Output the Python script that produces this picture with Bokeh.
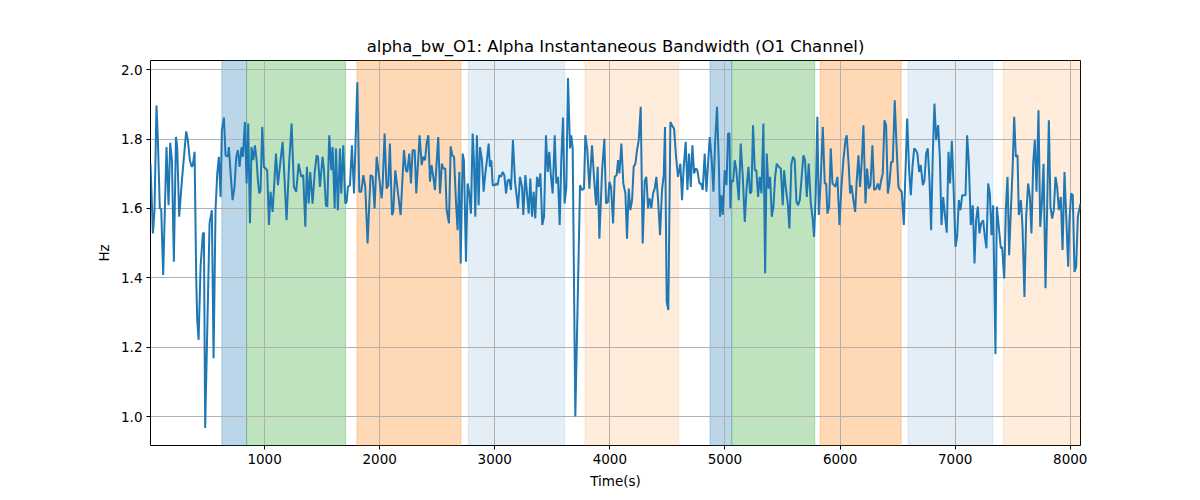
from bokeh.plotting import figure
from bokeh.models import BoxAnnotation, Range1d, FixedTicker, NumeralTickFormatter
from bokeh.embed import file_html
from bokeh.resources import INLINE

title_text = "alpha_bw_O1: Alpha Instantaneous Bandwidth (O1 Channel)"
x_label = "Time(s)"
y_label = "Hz"

times = [
    9, 30, 44, 61, 73, 90, 102, 119, 148, 166, 180, 195, 212, 230, 241, 258, 282, 319, 334, 351,
    366, 377, 392, 406, 415, 427, 444, 464, 473, 484, 522, 542, 557, 574, 589, 603, 618, 629, 647, 661,
    681, 690, 705, 722, 739, 754, 768, 783, 800, 812, 829, 844, 858, 873, 887, 902, 916, 931, 942, 954,
    965, 980, 994,
    1023, 1038, 1052, 1070, 1099, 1116, 1139, 1157, 1174, 1191, 1215, 1235, 1255, 1275, 1296, 1319, 1336, 1354, 1368, 1383,
    1397, 1417, 1435, 1452, 1464, 1481, 1504, 1516, 1533, 1545, 1562, 1580, 1591, 1609, 1620, 1637, 1655, 1666, 1684, 1701,
    1713, 1724, 1742, 1759, 1777, 1806, 1823, 1840, 1858, 1875, 1895, 1921, 1939, 1956, 1974,
    2002, 2017, 2026, 2043, 2060, 2075, 2089, 2107, 2118, 2136, 2153, 2182, 2211, 2228, 2240, 2257, 2272, 2286, 2304, 2318,
    2333, 2347, 2365, 2379, 2394, 2408, 2423, 2437, 2451, 2466, 2480, 2509, 2524, 2541, 2553, 2570, 2582, 2602, 2617, 2631,
    2646, 2663, 2677, 2692, 2704, 2721, 2732, 2750, 2764, 2779, 2793, 2808, 2819, 2831, 2845, 2860, 2872, 2889, 2903, 2918,
    2932, 2947, 2958, 2970, 2982, 2999, 3016,
    3025, 3040, 3054, 3069, 3083, 3098, 3112, 3127, 3141, 3158, 3176, 3202, 3219, 3237, 3248, 3266, 3280, 3295, 3309, 3324,
    3338, 3352, 3367, 3381, 3396, 3413, 3428, 3445, 3460, 3474, 3486, 3503, 3521, 3535, 3549, 3564, 3578, 3593, 3607, 3622,
    3636, 3654, 3665, 3677, 3700, 3741, 3758, 3775, 3787, 3804, 3822, 3845, 3862, 3880, 3894, 3909, 3932, 3952, 3967, 3984,
    3996, 4010,
    4028, 4042, 4059, 4071, 4083, 4100, 4117, 4135, 4149, 4164, 4178, 4193, 4207, 4222, 4236, 4251, 4268, 4285, 4303, 4317,
    4332, 4346, 4361, 4375, 4390, 4404, 4419, 4436, 4453, 4468, 4479, 4494, 4508, 4526, 4540, 4558, 4575, 4592, 4613, 4627,
    4642, 4659, 4674, 4688, 4703, 4717, 4732, 4746, 4760, 4778, 4792, 4807, 4824, 4839, 4853, 4868, 4885, 4900, 4914, 4931,
    4946, 4957, 4969, 4981, 4998, 5013, 5027, 5039, 5047,
    5056, 5071, 5085, 5099, 5120, 5137, 5155, 5172, 5189, 5204, 5218, 5230, 5244, 5259, 5273, 5288, 5302, 5317, 5334, 5349,
    5363, 5378, 5392, 5407, 5421, 5436, 5450, 5467, 5485, 5502, 5514, 5528, 5546, 5560, 5577, 5592, 5606, 5621, 5635, 5650,
    5664, 5682, 5696, 5711, 5728, 5746, 5763, 5774, 5789, 5803, 5815, 5832, 5850, 5867, 5879, 5890, 5905, 5919, 5934, 5948,
    5960, 5977, 5995, 6012, 6029, 6047,
    6058, 6076, 6087, 6099, 6116, 6131, 6145, 6160, 6174, 6189, 6203, 6221, 6235, 6250, 6264, 6281, 6296, 6313, 6328, 6342,
    6357, 6371, 6386, 6400, 6415, 6429, 6444, 6458, 6475, 6490, 6507, 6522, 6536, 6554, 6568, 6583, 6600, 6615, 6629, 6644,
    6658, 6672, 6687, 6701, 6719, 6733, 6748, 6762, 6777, 6791, 6806, 6820, 6835, 6852, 6867, 6881, 6896, 6910, 6927, 6942,
    6956, 6971, 6985, 7003, 7017, 7032, 7046, 7061,
    7075, 7090, 7104, 7119, 7136, 7153, 7168, 7182, 7197, 7211, 7226, 7243, 7258, 7272, 7287, 7301, 7316, 7330, 7350, 7362,
    7379, 7397, 7408, 7426, 7440, 7455, 7469, 7484, 7498, 7513, 7527, 7542, 7553, 7571, 7585, 7602, 7617, 7634, 7649, 7663,
    7678, 7692, 7707, 7724, 7739, 7753, 7768, 7785, 7799, 7814, 7828, 7843, 7857, 7872, 7886, 7901, 7918, 7933, 7950, 7965,
    7982, 7993, 8008, 8022, 8037, 8051, 8066, 8080, 8089,
]

values = [
    1.729, 1.528, 1.595, 1.897, 1.801, 1.600, 1.598, 1.408, 1.777, 1.609, 1.789, 1.739, 1.446, 1.806, 1.777, 1.576, 1.681, 1.822, 1.796, 1.739,
    1.720, 1.725, 1.763, 1.403, 1.278, 1.221, 1.432, 1.528, 1.530, 0.967, 1.557, 1.595, 1.168, 1.595, 1.701, 1.749, 1.633, 1.825, 1.862, 1.753,
    1.749, 1.777, 1.701, 1.624, 1.662, 1.749, 1.768, 1.720, 1.777, 1.749, 1.849, 1.672, 1.845, 1.557, 1.777, 1.739, 1.782, 1.739, 1.681, 1.643,
    1.652, 1.835, 1.720,
    1.710, 1.552, 1.648, 1.590, 1.758, 1.667, 1.739, 1.792, 1.681, 1.566, 1.739, 1.845, 1.662, 1.648, 1.729, 1.691, 1.696, 1.547, 1.720, 1.614,
    1.705, 1.614, 1.701, 1.753, 1.749, 1.662, 1.749, 1.710, 1.609, 1.605, 1.811, 1.710, 1.777, 1.600, 1.773, 1.595, 1.773, 1.643, 1.782, 1.614,
    1.619, 1.662, 1.667, 1.782, 1.643, 1.964, 1.648, 1.648, 1.696, 1.662, 1.499, 1.696, 1.691, 1.600, 1.749,
    1.672, 1.629, 1.667, 1.816, 1.657, 1.667, 1.787, 1.581, 1.590, 1.710, 1.662, 1.581, 1.768, 1.710, 1.705, 1.758, 1.672, 1.768, 1.768, 1.643,
    1.729, 1.811, 1.725, 1.749, 1.739, 1.787, 1.811, 1.677, 1.725, 1.691, 1.653, 1.806, 1.643, 1.729, 1.715, 1.715, 1.595, 1.557, 1.779, 1.753,
    1.749, 1.619, 1.537, 1.705, 1.441, 1.758, 1.739, 1.446, 1.672, 1.643, 1.585, 1.816, 1.739, 1.576, 1.811, 1.609, 1.777, 1.739, 1.648, 1.701,
    1.739, 1.787, 1.720, 1.739, 1.667, 1.667, 1.672,
    1.667, 1.696, 1.691, 1.705, 1.696, 1.643, 1.681, 1.683, 1.653, 1.797, 1.677, 1.600, 1.691, 1.662, 1.581, 1.696, 1.643, 1.585, 1.686, 1.576,
    1.648, 1.571, 1.691, 1.662, 1.701, 1.552, 1.576, 1.811, 1.705, 1.763, 1.701, 1.643, 1.811, 1.672, 1.691, 1.552, 1.739, 1.862, 1.614, 1.662,
    1.976, 1.773, 1.811, 1.773, 1.000, 1.667, 1.653, 1.657, 1.811, 1.768, 1.657, 1.782, 1.691, 1.609, 1.720, 1.513, 1.705, 1.801, 1.614, 1.619,
    1.677, 1.662,
    1.557, 1.691, 1.696, 1.739, 1.701, 1.787, 1.672, 1.643, 1.513, 1.657, 1.595, 1.624, 1.720, 1.729, 1.768, 1.797, 1.893, 1.499, 1.681, 1.691,
    1.600, 1.629, 1.600, 1.643, 1.657, 1.691, 1.624, 1.523, 1.653, 1.696, 1.835, 1.331, 1.307, 1.849, 1.840, 1.830, 1.749, 1.691, 1.729, 1.624,
    1.720, 1.792, 1.653, 1.758, 1.662, 1.782, 1.701, 1.715, 1.710, 1.672, 1.672, 1.653, 1.758, 1.648, 1.729, 1.806, 1.739, 1.648, 1.787, 1.893,
    1.739, 1.576, 1.638, 1.581, 1.710, 1.667, 1.816, 1.816, 1.600,
    1.681, 1.677, 1.739, 1.710, 1.624, 1.787, 1.691, 1.561, 1.662, 1.720, 1.643, 1.648, 1.840, 1.710, 1.710, 1.633, 1.691, 1.643, 1.845, 1.413,
    1.758, 1.657, 1.691, 1.576, 1.605, 1.691, 1.729, 1.720, 1.715, 1.609, 1.710, 1.662, 1.614, 1.542, 1.729, 1.749, 1.739, 1.619, 1.609, 1.624,
    1.681, 1.753, 1.739, 1.633, 1.729, 1.614, 1.566, 1.518, 1.643, 1.864, 1.581, 1.681, 1.835, 1.672, 1.672, 1.585, 1.605, 1.773, 1.672, 1.667,
    1.662, 1.691, 1.552, 1.662, 1.739, 1.797,
    1.811, 1.720, 1.643, 1.667, 1.624, 1.590, 1.681, 1.753, 1.662, 1.739, 1.840, 1.614, 1.715, 1.657, 1.667, 1.782, 1.653, 1.657, 1.672, 1.653,
    1.681, 1.701, 1.854, 1.840, 1.643, 1.672, 1.734, 1.734, 1.912, 1.787, 1.662, 1.653, 1.648, 1.552, 1.701, 1.859, 1.710, 1.638, 1.720, 1.773,
    1.768, 1.758, 1.705, 1.725, 1.667, 1.681, 1.758, 1.773, 1.681, 1.537, 1.758, 1.902, 1.797, 1.840, 1.749, 1.552, 1.633, 1.585, 1.530, 1.763,
    1.672, 1.795, 1.672, 1.489, 1.518, 1.624, 1.595, 1.638,
    1.638, 1.638, 1.811, 1.729, 1.552, 1.609, 1.441, 1.566, 1.605, 1.528, 1.557, 1.566, 1.518, 1.485, 1.672, 1.643, 1.523, 1.609, 1.180, 1.605,
    1.547, 1.485, 1.489, 1.398, 1.595, 1.691, 1.465, 1.595, 1.705, 1.864, 1.749, 1.753, 1.581, 1.624, 1.547, 1.345, 1.576, 1.672, 1.633, 1.528,
    1.729, 1.797, 1.648, 1.883, 1.547, 1.614, 1.729, 1.370, 1.600, 1.854, 1.605, 1.571, 1.595, 1.691, 1.662, 1.595, 1.633, 1.480, 1.705, 1.576,
    1.432, 1.566, 1.643, 1.638, 1.417, 1.432, 1.576, 1.600, 1.614,
]

span_starts = [629, 844, 1802, 2770, 3784, 4870, 5059, 5827, 6591, 7417]
span_ends = [844, 1704, 2706, 3608, 4598, 5059, 5780, 6531, 7327, 8092]
span_colors = ["#1f77b4", "#2ca02c", "#ff7f0e", "#1f77b4", "#ff7f0e",
               "#1f77b4", "#2ca02c", "#ff7f0e", "#1f77b4", "#ff7f0e"]
span_alphas = [0.3, 0.3, 0.3, 0.12, 0.15, 0.3, 0.3, 0.3, 0.12, 0.15]

x_ticks = [1000, 2000, 3000, 4000, 5000, 6000, 7000, 8000]
y_ticks = [1.0, 1.2, 1.4, 1.6, 1.8, 2.0]

lo, hi = min(values), max(values)
pad = 0.05 * (hi - lo)

p = figure(width=1192, height=492, output_backend="svg", toolbar_location=None,
           x_range=Range1d(times[0], times[-1]), y_range=Range1d(lo - pad, hi + pad),
           min_border_left=150, min_border_right=112, min_border_top=60, min_border_bottom=47,
           title=title_text)

FONT = "DejaVu Sans"
p.title.text_font = FONT
p.title.text_font_size = "16.5px"
p.title.text_font_style = "normal"
p.title.align = "center"
p.title.text_color = "black"

for s, e, c, a in zip(span_starts, span_ends, span_colors, span_alphas):
    p.add_layout(BoxAnnotation(left=s, right=e, fill_color=c, fill_alpha=a,
                               line_color=c, line_alpha=a, line_width=1, level="image"))

p.line(times, values, line_color="#1f77b4", line_width=2)

p.xaxis.ticker = FixedTicker(ticks=x_ticks)
p.yaxis.ticker = FixedTicker(ticks=y_ticks)
p.yaxis.formatter = NumeralTickFormatter(format="0.0")
p.xaxis.axis_label = x_label
p.yaxis.axis_label = y_label
for ax in (p.xaxis[0], p.yaxis[0]):
    ax.axis_label_text_font = FONT
    ax.axis_label_text_font_size = "13.5px"
    ax.axis_label_text_font_style = "normal"
    ax.axis_label_text_color = "black"
    ax.major_label_text_font = FONT
    ax.major_label_text_font_size = "13.5px"
    ax.major_label_text_color = "black"
    ax.axis_line_color = None
    ax.major_tick_line_color = "black"
    ax.major_tick_out = 4
    ax.major_tick_in = 0
    ax.minor_tick_line_color = None
    ax.axis_label_standoff = 6
    ax.major_label_standoff = 4

p.grid.grid_line_color = "#b0b0b0"
p.grid.grid_line_width = 1
p.outline_line_color = "black"
p.outline_line_width = 1
p.background_fill_color = "white"
p.border_fill_color = "white"

open("out.html", "w").write(file_html(p, INLINE))
